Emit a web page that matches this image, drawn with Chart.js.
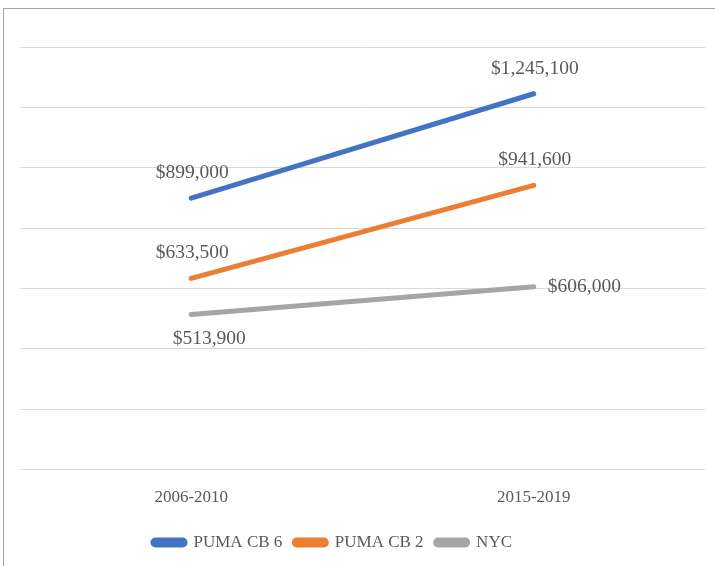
<!DOCTYPE html>
<html>
<head>
<meta charset="utf-8">
<script src="https://cdn.jsdelivr.net/npm/chart.js@4"></script>
<style>
    html, body { margin: 0; padding: 0; background: #fff; }
    #frame {
        position: absolute; left: 3px; top: 8px; width: 730px; height: 580px;
        border: 1.5px solid #a6a6a6; box-sizing: border-box;
    }
    #wrap { position: absolute; left: 0; top: 0; width: 715px; height: 566px; }
</style>
</head>
<body>
<div id="frame"></div>
<div id="wrap"><canvas id="valueChart"></canvas></div>
<script>
const periods = ['2006-2010', '2015-2019'];
const seriesNames = ['PUMA CB 6', 'PUMA CB 2', 'NYC'];
const cb6Values = [899000, 1245100];
const cb2Values = [633500, 941600];
const nycValues = [513900, 606000];
const yTicks = [0, 200000, 400000, 600000, 800000, 1000000, 1200000, 1400000];

const lineColors = ['#4472c4', '#ed7d31', '#a5a5a5'];
const textColor = '#595959';
const fontFamily = '"Liberation Serif", "Times New Roman", serif';

// where each data label sits relative to its point
const labelSpots = [
    ['above', 'above'],
    ['above', 'above'],
    ['below', 'right']
];

function money(v) {
    return '$' + v.toLocaleString('en-US');
}

const valueLabels = {
    id: 'valueLabels',
    afterLayout(chart) {
        // legend in the original sits a bit left of centre and lower
        chart.legend.left -= 20;
        chart.legend.right -= 20;
        chart.legend.top += 4;
        chart.legend.bottom += 4;
    },
    afterDatasetsDraw(chart) {
        const c = chart.ctx;
        c.save();
        c.font = '19.5px ' + fontFamily;
        c.fillStyle = textColor;
        c.textBaseline = 'middle';
        chart.data.datasets.forEach((ds, i) => {
            const meta = chart.getDatasetMeta(i);
            meta.data.forEach((pt, j) => {
                const spot = labelSpots[i][j];
                const txt = money(ds.data[j]);
                if (spot === 'above') {
                    c.textAlign = 'center';
                    c.fillText(txt, pt.x + 1, pt.y - 25);
                } else if (spot === 'below') {
                    c.textAlign = 'center';
                    c.fillText(txt, pt.x + 18, pt.y + 24);
                } else {
                    c.textAlign = 'left';
                    c.fillText(txt, pt.x + 14, pt.y);
                }
            });
        });
        c.restore();
    }
};

const ctx = document.getElementById('valueChart');
new Chart(ctx, {
    type: 'line',
    data: {
        labels: periods,
        datasets: [cb6Values, cb2Values, nycValues].map((vals, i) => ({
            label: seriesNames[i],
            data: vals,
            borderColor: lineColors[i],
            backgroundColor: lineColors[i],
            borderWidth: 5,
            borderCapStyle: 'round',
            pointRadius: 0,
            pointHoverRadius: 0,
            tension: 0
        }))
    },
    options: {
        responsive: true,
        maintainAspectRatio: false,
        animation: false,
        layout: { padding: { left: 0, right: 10, top: 47, bottom: 9 } },
        scales: {
            x: {
                offset: true,
                grid: { display: false },
                border: { display: false },
                ticks: { color: textColor, font: { family: fontFamily, size: 17 }, padding: 10 }
            },
            y: {
                min: 0,
                max: 1400000,
                afterBuildTicks(axis) {
                    axis.ticks = yTicks.map(v => ({ value: v }));
                },
                afterFit(axis) {
                    axis.width = 20;
                },
                ticks: { display: false },
                border: { display: false },
                grid: { color: '#d9d9d9', lineWidth: 1, drawTicks: false }
            }
        },
        plugins: {
            legend: {
                position: 'bottom',
                labels: {
                    color: textColor,
                    font: { family: fontFamily, size: 17 },
                    boxWidth: 32,
                    boxHeight: 5,
                    useBorderRadius: true,
                    borderRadius: 2.5,
                    padding: 12
                }
            },
            tooltip: { enabled: false }
        }
    },
    plugins: [valueLabels]
});
</script>
</body>
</html>
